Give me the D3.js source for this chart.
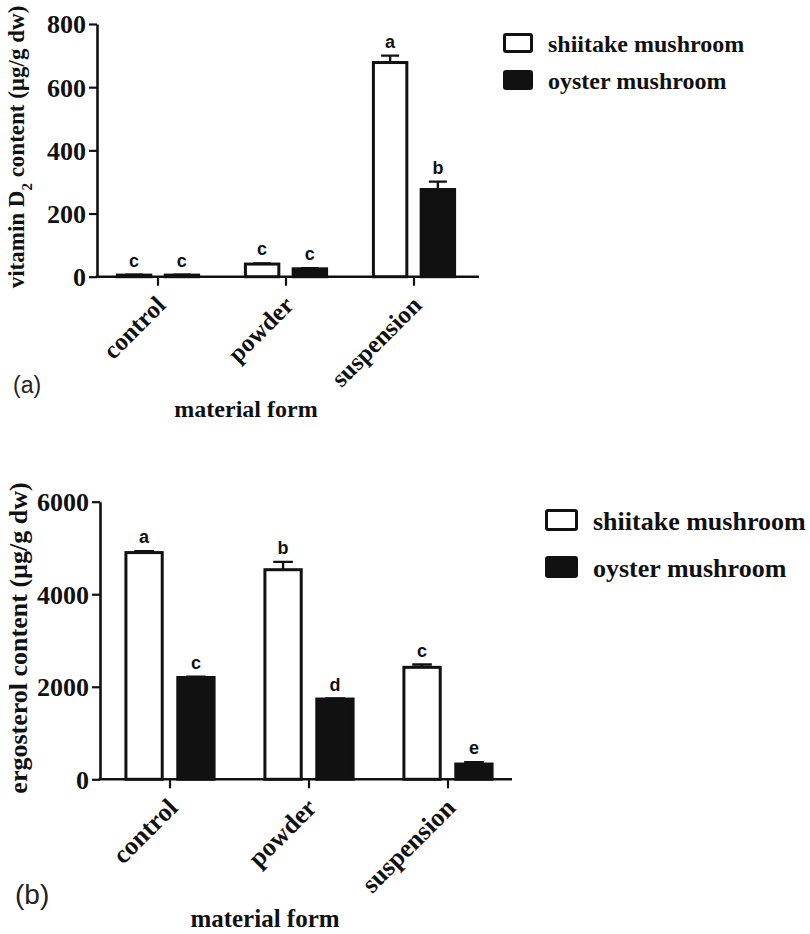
<!DOCTYPE html>
<html>
<head>
<meta charset="utf-8">
<script src="https://cdn.jsdelivr.net/npm/d3@7"></script>
<style>
  body { margin: 0; background: #fff; }
  svg { display: block; }
  .serif { font-family: "Liberation Serif", "Times New Roman", serif; font-weight: bold; }
</style>
</head>
<body>
<svg id="chart"></svg>
<script>
// categories and series
const categories = ["control", "powder", "suspension"];
const seriesNames = ["shiitake mushroom", "oyster mushroom"];

// panel (a) vitamin D2, ug/g dw
const vitD2Ticks = [0, 200, 400, 600, 800];
const vitD2Shiitake = [5, 40, 678];
const vitD2ShiitakeErr = [1, 2, 22];
const vitD2ShiitakeSig = ["c", "c", "a"];
const vitD2Oyster = [5, 25, 276];
const vitD2OysterErr = [1, 2, 25];
const vitD2OysterSig = ["c", "c", "b"];

// panel (b) ergosterol, ug/g dw
const ergTicks = [0, 2000, 4000, 6000];
const ergShiitake = [4900, 4530, 2420];
const ergShiitakeErr = [30, 170, 60];
const ergShiitakeSig = ["a", "b", "c"];
const ergOyster = [2200, 1735, 330];
const ergOysterErr = [20, 10, 40];
const ergOysterSig = ["c", "d", "e"];

let width = 810, height = 934;

let svg = d3.select("#chart")
	.attr("width", width)
	.attr("height", height);

// panel settings (layout only)
let panels = [
	{
		tag: "(a)", tagX: 13, tagY: 393, tagSize: 23,
		ticks: vitD2Ticks, yMax: 800, y0: 276.7, yTop: 24,
		axisX: 97, axisEnd: 479, band: [94, 478],
		tickFont: 26, catFont: 25,
		title: ["vitamin D", "2", " content (\u00b5g/g dw)"], titleX: 24, titleY: 147, titleFont: 23,
		xTitleX: 246, xTitleY: 417, xTitleFont: 24,
		legX: 503, legY: 33, legW: 30, legH: 20, legGap: 37, legFont: 24,
		values: [vitD2Shiitake, vitD2Oyster],
		errs: [vitD2ShiitakeErr, vitD2OysterErr],
		sigs: [vitD2ShiitakeSig, vitD2OysterSig]
	},
	{
		tag: "(b)", tagX: 15, tagY: 904, tagSize: 28,
		ticks: ergTicks, yMax: 6000, y0: 779.3, yTop: 501.7,
		axisX: 100, axisEnd: 512, band: [100.5, 517.5],
		tickFont: 26, catFont: 26,
		title: ["ergosterol content (\u00b5g/g dw)"], titleX: 27, titleY: 638, titleFont: 26,
		xTitleX: 265, xTitleY: 927, xTitleFont: 25,
		legX: 545, legY: 509, legW: 33, legH: 22, legGap: 47, legFont: 26,
		values: [ergShiitake, ergOyster],
		errs: [ergShiitakeErr, ergOysterErr],
		sigs: [ergShiitakeSig, ergOysterSig]
	}
];

let fills = ["#fff", "#111"];

panels.forEach(function(p) {
	let g = svg.append("g");

	// scales
	let yScale = d3.scaleLinear()
		.domain([0, p.yMax])
		.range([p.y0, p.yTop]);

	let xScale = d3.scaleBand()
		.domain(categories)
		.range(p.band)
		.paddingInner(0)
		.paddingOuter(0);

	let xInner = d3.scaleBand()
		.domain(seriesNames)
		.range([0, xScale.bandwidth()])
		.paddingInner(0.3)
		.paddingOuter(0.49);

	// y axis
	let yAxis = d3.axisLeft(yScale)
		.tickValues(p.ticks)
		.tickSize(8)
		.tickSizeOuter(0)
		.tickPadding(3)
		.tickFormat(d3.format("d"));

	let yG = g.append("g")
		.attr("transform", "translate(" + p.axisX + ",0)")
		.call(yAxis);
	yG.select(".domain").attr("stroke", "#111").attr("stroke-width", 2.6);
	yG.selectAll(".tick line").attr("stroke", "#111").attr("stroke-width", 2.2);
	yG.selectAll(".tick text")
		.attr("class", "serif")
		.style("font-size", p.tickFont + "px")
		.attr("fill", "#111")
		.attr("dy", "0.34em");

	// x axis ticks
	let xAxis = d3.axisBottom(xScale)
		.tickSize(9)
		.tickSizeOuter(0)
		.tickFormat("");

	let xG = g.append("g")
		.attr("transform", "translate(0," + p.y0 + ")")
		.call(xAxis);
	xG.select(".domain").remove();
	xG.selectAll(".tick line").attr("stroke", "#111").attr("stroke-width", 2.2);

	g.append("line")
		.attr("x1", p.axisX - 1.3).attr("x2", p.axisEnd)
		.attr("y1", p.y0).attr("y2", p.y0)
		.attr("stroke", "#111")
		.attr("stroke-width", 2.6);

	// rotated category labels
	g.selectAll(".cat-label")
		.data(categories)
		.enter().append("text")
		.attr("class", "serif")
		.style("font-size", p.catFont + "px")
		.attr("text-anchor", "end")
		.attr("fill", "#111")
		.attr("transform", function(d) {
			let cx = xScale(d) + xScale.bandwidth() / 2;
			return "translate(" + (cx + 9) + "," + (p.y0 + 30) + ") rotate(-45)";
		})
		.text(function(d) { return d; });

	// bars, error bars, letters
	seriesNames.forEach(function(s, si) {
		let vals = p.values[si];
		let errs = p.errs[si];
		let sigs = p.sigs[si];
		let bw = xInner.bandwidth();

		let sg = g.append("g").attr("class", "series-" + si);

		// error bars (upper only)
		sg.selectAll(".err")
			.data(vals)
			.enter().append("path")
			.attr("class", "err")
			.attr("fill", "none")
			.attr("stroke", "#111")
			.attr("stroke-width", 2.4)
			.attr("d", function(d, i) {
				let cx = xScale(categories[i]) + xInner(s) + bw / 2;
				let yt = yScale(d + errs[i]);
				return "M" + cx + "," + yScale(d) + "V" + yt +
					"M" + (cx - bw * 0.27) + "," + yt + "H" + (cx + bw * 0.27);
			});

		sg.selectAll(".bar")
			.data(vals)
			.enter().append("rect")
			.attr("class", "bar")
			.attr("x", function(d, i) { return xScale(categories[i]) + xInner(s); })
			.attr("y", function(d) { return yScale(d); })
			.attr("width", bw)
			.attr("height", function(d) { return p.y0 - yScale(d); })
			.attr("fill", fills[si])
			.attr("stroke", "#111")
			.attr("stroke-width", 3);

		sg.selectAll(".sig")
			.data(vals)
			.enter().append("text")
			.attr("class", "sig")
			.attr("x", function(d, i) { return xScale(categories[i]) + xInner(s) + bw / 2; })
			.attr("y", function(d, i) { return yScale(d + errs[i]) - 8; })
			.attr("text-anchor", "middle")
			.style("font-family", "'Liberation Sans', Arial, sans-serif")
			.style("font-weight", "bold")
			.style("font-size", "18px")
			.attr("fill", "#111")
			.text(function(d, i) { return sigs[i]; });
	});

	// y axis title
	let yTitle = g.append("text")
		.attr("class", "serif")
		.style("font-size", p.titleFont + "px")
		.attr("fill", "#111")
		.attr("text-anchor", "middle")
		.attr("transform", "translate(" + p.titleX + "," + p.titleY + ") rotate(-90)");
	p.title.forEach(function(t, i) {
		let ts = yTitle.append("tspan").text(t);
		if (p.title.length > 1 && i === 1) {
			ts.attr("baseline-shift", "sub").style("font-size", (p.titleFont * 0.65) + "px");
		}
	});

	// x axis title
	g.append("text")
		.attr("class", "serif")
		.style("font-size", p.xTitleFont + "px")
		.attr("fill", "#111")
		.attr("text-anchor", "middle")
		.attr("x", p.xTitleX)
		.attr("y", p.xTitleY)
		.text("material form");

	// panel tag
	g.append("text")
		.attr("x", p.tagX)
		.attr("y", p.tagY)
		.style("font-family", "'Liberation Sans', Arial, sans-serif")
		.style("font-size", p.tagSize + "px")
		.attr("fill", "#222")
		.text(p.tag);

	// legend
	let leg = g.append("g").attr("class", "legend");
	seriesNames.forEach(function(s, si) {
		let ly = p.legY + si * p.legGap;
		leg.append("rect")
			.attr("x", p.legX + 1.5)
			.attr("y", ly + 1.5)
			.attr("width", p.legW - 3)
			.attr("height", p.legH - 3)
			.attr("rx", 1.5)
			.attr("fill", fills[si])
			.attr("stroke", "#111")
			.attr("stroke-width", 3);
		leg.append("text")
			.attr("class", "serif")
			.style("font-size", p.legFont + "px")
			.attr("fill", "#111")
			.attr("x", p.legX + p.legW + 15)
			.attr("y", ly + p.legH - 1)
			.text(s);
	});
});
</script>
</body>
</html>
